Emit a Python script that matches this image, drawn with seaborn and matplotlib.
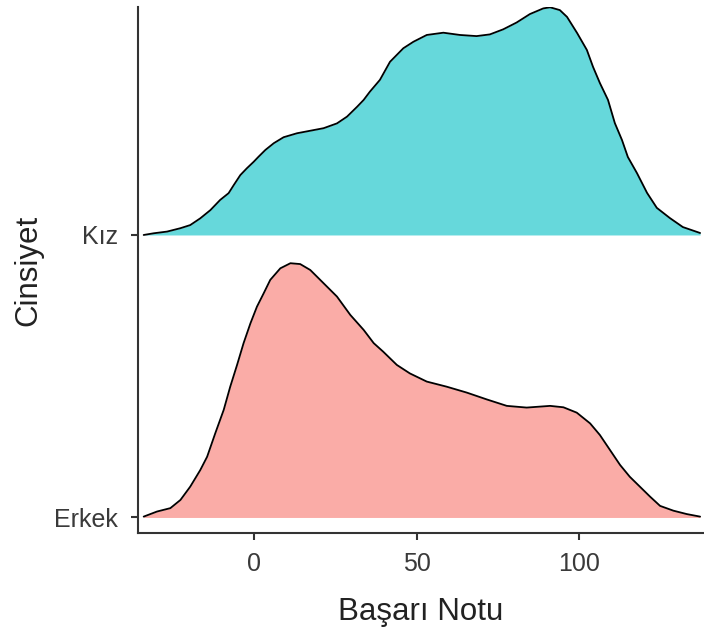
import numpy as np
import pandas as pd
import matplotlib
matplotlib.use("Agg")
import matplotlib.pyplot as plt
import seaborn as sns

# ---- data (scaled density heights per group) ----
groups = ["Erkek", "Kız"]
colors = ["#F8766D", "#00BFC4"]

kiz_score = [-33.9, -30.8, -26.7, -22.6, -19.6, -16.5, -13.4, -10.4, -7.8, -6.2,
             -4.2, -2.2, -0.1, 1.4, 3.5, 6.1, 9.1, 13.2, 17.3, 21.4,
             25.5, 28.6, 31.7, 33.7, 35.6, 38.7, 41.8, 45.9, 49.0, 53.1,
             58.2, 63.3, 68.4, 72.5, 76.6, 80.7, 84.8, 88.9, 91.0, 94.0,
             96.2, 99.3, 102.3, 104.2, 106.3, 108.8, 110.9, 113.1, 114.9, 117.7,
             120.8, 123.8, 127.8, 131.8, 137.1]
kiz_height = [0.000, 0.006, 0.012, 0.024, 0.035, 0.059, 0.088, 0.124, 0.148, 0.177,
              0.212, 0.236, 0.259, 0.277, 0.301, 0.325, 0.346, 0.360, 0.369, 0.378,
              0.395, 0.419, 0.454, 0.478, 0.507, 0.549, 0.613, 0.661, 0.684, 0.708,
              0.716, 0.708, 0.704, 0.710, 0.728, 0.752, 0.782, 0.802, 0.806, 0.796,
              0.772, 0.715, 0.655, 0.595, 0.538, 0.478, 0.396, 0.336, 0.276, 0.219,
              0.149, 0.096, 0.060, 0.028, 0.007]

erkek_score = [-33.9, -29.8, -25.7, -22.6, -19.6, -16.5, -14.4, -11.9, -9.3, -7.3,
               -5.2, -3.2, -1.1, 0.9, 3.0, 5.0, 8.1, 11.2, 14.2, 17.3,
               21.4, 25.5, 29.6, 33.7, 36.8, 39.7, 43.9, 47.9, 53.1, 59.2,
               65.4, 71.5, 77.7, 83.8, 91.0, 95.1, 99.2, 103.3, 106.3, 109.4,
               112.5, 115.5, 118.6, 121.7, 124.8, 128.9, 133.0, 137.1]
erkek_height = [0.003, 0.021, 0.033, 0.062, 0.109, 0.168, 0.215, 0.298, 0.381, 0.463,
                0.540, 0.617, 0.687, 0.746, 0.794, 0.841, 0.882, 0.900, 0.897, 0.876,
                0.829, 0.782, 0.717, 0.664, 0.617, 0.587, 0.540, 0.510, 0.481, 0.463,
                0.442, 0.418, 0.395, 0.389, 0.395, 0.390, 0.371, 0.333, 0.292, 0.239,
                0.186, 0.144, 0.109, 0.074, 0.041, 0.024, 0.012, 0.003]

x_ticks = [0, 50, 100]
x_label = "Başarı Notu"
y_label = "Cinsiyet"

# ---- build table ----
df = pd.concat([
    pd.DataFrame({"score": erkek_score, "height": erkek_height, "group": "Erkek"}),
    pd.DataFrame({"score": kiz_score, "height": kiz_height, "group": "Kız"}),
], ignore_index=True)
df["pos"] = df["group"].map({g: i + 1 for i, g in enumerate(groups)})
df["top"] = df["pos"] + df["height"]

sns.set_theme(style="ticks")
plt.rcParams["font.family"] = ["Liberation Sans", "DejaVu Sans"]

W, H = 704, 632
fig = plt.figure(figsize=(W / 100, H / 100), dpi=100)
ax = fig.add_axes([137.5 / W, 1 - 533 / H, 1 - 137.5 / W, (533 - 7) / H])

# draw top ridge first, lower ridge over it
for g, c in reversed(list(zip(groups, colors))):
    sub = df[df["group"] == g]
    ax.fill_between(sub["score"], sub["pos"], sub["top"], color=c, alpha=0.6, lw=0)
    sns.lineplot(data=sub, x="score", y="top", ax=ax, color="black", lw=1.3,
                 sort=False, estimator=None)

ax.set_xlim(-35.8, 138.3)
ax.set_ylim(0.945, 2.807)
ax.set_xticks(x_ticks)
ax.set_xticklabels([str(t) for t in x_ticks])
ax.set_yticks([1, 2])
ax.set_yticklabels(groups)

for s in ["top", "right"]:
    ax.spines[s].set_visible(False)
for s in ["left", "bottom"]:
    ax.spines[s].set_color("#333333")
    ax.spines[s].set_linewidth(1.5)

ax.tick_params(axis="both", length=5, width=1.5, color="#333333",
               labelsize=18, labelcolor="#3a3a3a")
ax.tick_params(axis="x", pad=9)
ax.tick_params(axis="y", pad=9)

ax.set_xlabel(x_label, fontsize=22.5, color="#222222", labelpad=15)
ax.set_ylabel(y_label, fontsize=22.5, color="#222222", labelpad=8)

fig.savefig("out.png", dpi=100, facecolor="white")
